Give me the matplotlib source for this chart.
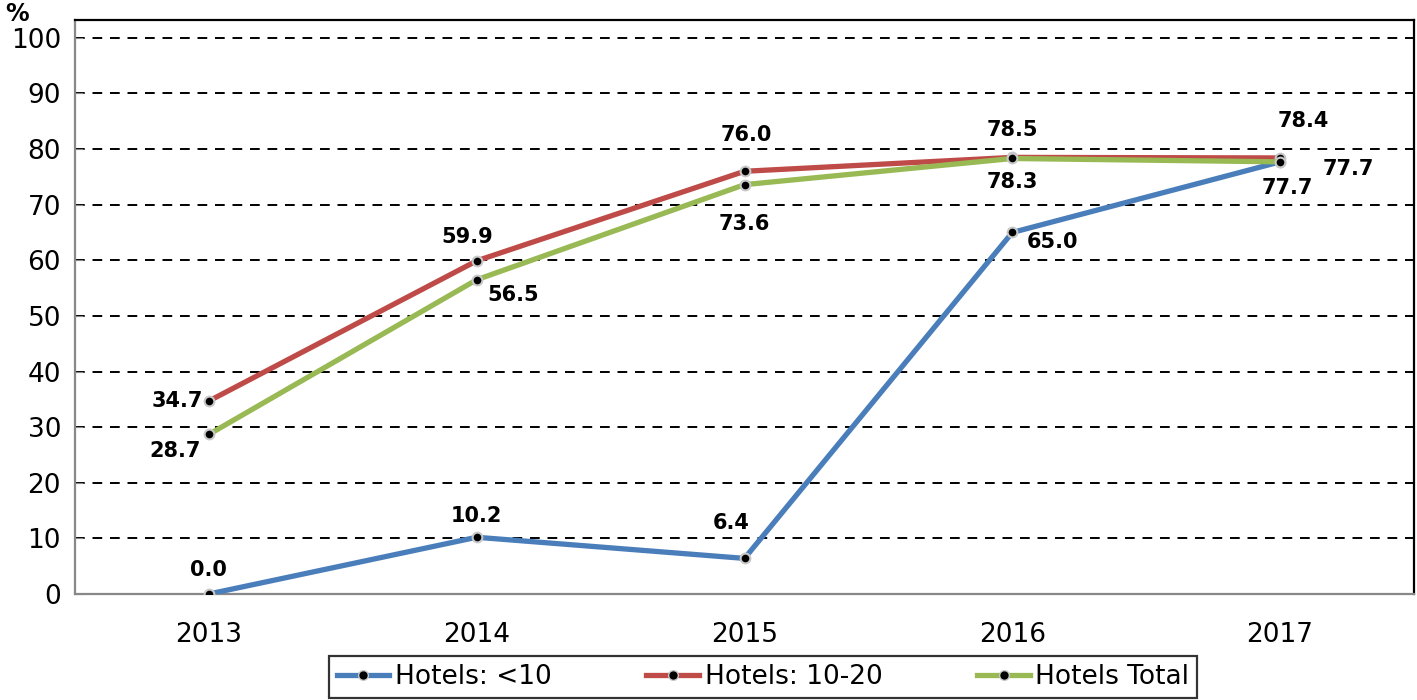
import matplotlib
matplotlib.use("Agg")
import matplotlib.pyplot as plt
from matplotlib.lines import Line2D

# data
years = ["2013", "2014", "2015", "2016", "2017"]
hotels_small = [0.0, 10.2, 6.4, 65.0, 77.7]
hotels_mid = [34.7, 59.9, 76.0, 78.5, 78.4]
hotels_total = [28.7, 56.5, 73.6, 78.3, 77.7]

series_names = ["Hotels: <10", "Hotels: 10-20", "Hotels Total"]
colors = ["#4A7EBB", "#BE4B48", "#98B954"]

# label offsets in pixels (dx, dy), per point
off_small = [(0, 24), (0, 21), (-13, 35), (40, -10), (68, -7)]
off_mid = [(-32, 0), (-9, 24), (2, 36), (0, 27), (23, 37)]
off_total = [(-34, -17), (36, -15), (0, -39), (0, -24), (7, -26)]

plt.rcParams["font.family"] = ["DejaVu Sans"]

fig = plt.figure(figsize=(14.17, 7.0), dpi=100)
ax = fig.add_axes([75 / 1417, 106 / 700, (1414 - 75) / 1417, (594 - 20) / 700])

x = list(range(len(years)))
all_series = [hotels_small, hotels_mid, hotels_total]
all_offsets = [off_small, off_mid, off_total]

for vals, col, name in zip(all_series, colors, series_names):
    ax.plot(x, vals, color=col, lw=3.8, marker="o", markersize=7,
            markerfacecolor="black", markeredgecolor="#c8c8c8",
            markeredgewidth=1.5, label=name, zorder=3)

for vals, offs in zip(all_series, all_offsets):
    for xi, v, (dx, dy) in zip(x, vals, offs):
        ax.annotate(f"{v:.1f}", (xi, v), xytext=(dx, dy),
                    textcoords="offset pixels", ha="center", va="center",
                    fontsize=15, fontweight="bold", zorder=4)

ax.set_xlim(-0.5, 4.5)
ax.set_ylim(0, 103.2)
ax.set_yticks(range(0, 101, 10))
ax.set_xticks(x)
ax.set_xticklabels(years)
ax.tick_params(axis="y", labelsize=19, direction="in", length=6,
               color="#888888", pad=10)
ax.tick_params(axis="x", labelsize=19, length=0, pad=20)

ax.yaxis.grid(True, linestyle=(0, (5, 4)), color="black", lw=1.4)
ax.set_axisbelow(True)

for side in ["top", "right"]:
    ax.spines[side].set_color("black")
    ax.spines[side].set_linewidth(1.6)
for side in ["left", "bottom"]:
    ax.spines[side].set_color("#888888")
    ax.spines[side].set_linewidth(1.6)

fig.text(17 / 1417, 1 - 14 / 700, "%", fontsize=17, fontweight="bold",
         ha="center", va="center")

handles = [Line2D([0], [0], color=c, lw=3.8, marker="o", markersize=7,
                  markerfacecolor="black", markeredgecolor="#c8c8c8")
           for c in colors]
leg = fig.legend(handles, series_names, loc="center",
                 bbox_to_anchor=(763 / 1417, 1 - 677 / 700),
                 ncol=3, fontsize=19, frameon=True, fancybox=False,
                 edgecolor="black", handlelength=2.0, columnspacing=3.6,
                 handletextpad=0.2, borderpad=0.3, borderaxespad=0)
leg.get_frame().set_linewidth(1.6)

fig.savefig("out.png", dpi=100)
